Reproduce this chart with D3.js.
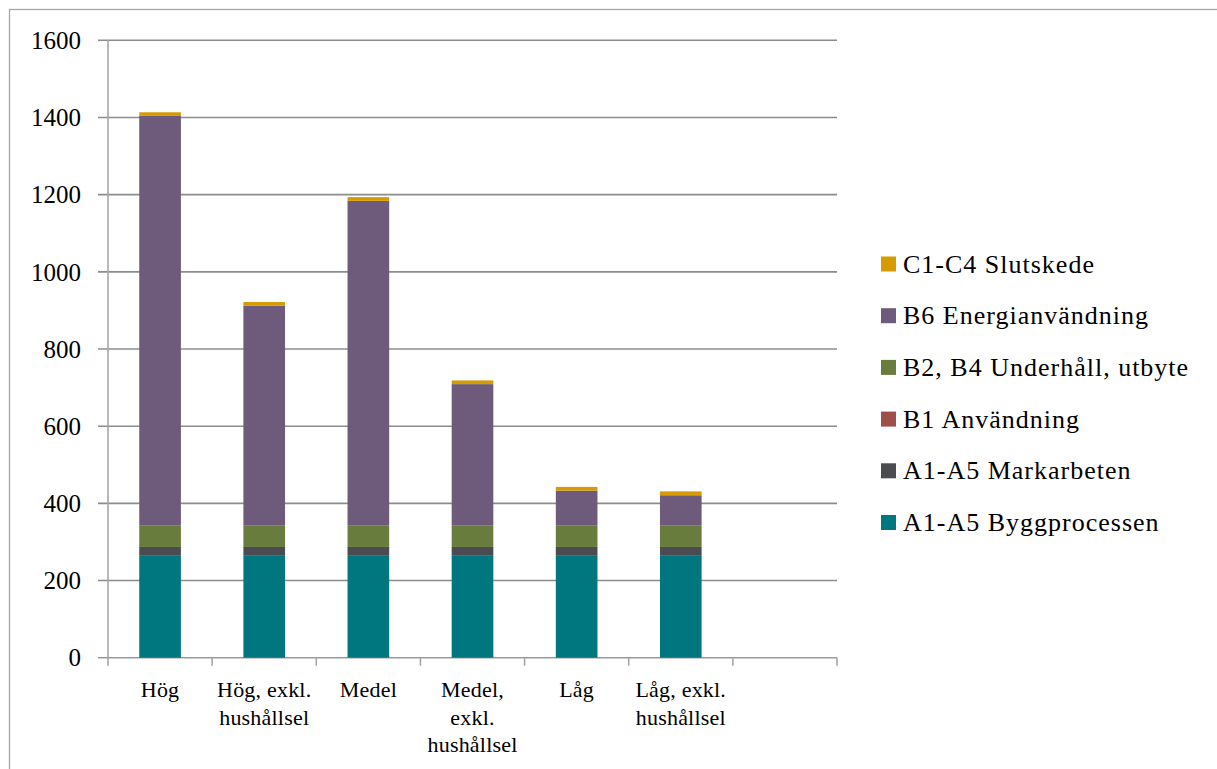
<!DOCTYPE html>
<html>
<head>
<meta charset="utf-8">
<script src="https://cdnjs.cloudflare.com/ajax/libs/d3/7.8.5/d3.min.js"></script>
<style>
  body { margin: 0; background: #fff; }
</style>
</head>
<body>
<div id="viz-container"></div>
<script>
// categories (last slot is empty, as in the original)
const categories = ['hog', 'hogExkl', 'medel', 'medelExkl', 'lag', 'lagExkl', 'empty'];
const categoryLabels = [
  ['Hög'],
  ['Hög, exkl.', 'hushållsel'],
  ['Medel'],
  ['Medel,', 'exkl.', 'hushållsel'],
  ['Låg'],
  ['Låg, exkl.', 'hushållsel'],
  []
];

// series, bottom to top
const seriesNames = [
  'A1-A5 Byggprocessen',
  'A1-A5 Markarbeten',
  'B1 Användning',
  'B2, B4 Underhåll, utbyte',
  'B6 Energianvändning',
  'C1-C4 Slutskede'
];
const seriesColors = ['#00777f', '#4b4c51', '#9e4f49', '#687c3d', '#6e5b7c', '#d59b00'];

const byggprocessen = [264, 264, 264, 264, 264, 264];
const markarbeten   = [23, 23, 23, 23, 23, 23];
const anvandning    = [0, 0, 0, 0, 0, 0];
const underhall     = [55, 55, 55, 55, 55, 55];
const energi        = [1062, 570, 842, 367, 91, 79];
const slutskede     = [9.5, 9.7, 9.5, 9.6, 9.6, 10];

const yTicks = [0, 200, 400, 600, 800, 1000, 1200, 1400, 1600];

const allSeries = [byggprocessen, markarbeten, anvandning, underhall, energi, slutskede];
const rows = categories.slice(0, 6).map((c, i) => {
  const r = { cat: c };
  seriesNames.forEach((s, j) => { r[s] = allSeries[j][i]; });
  return r;
});

const width = 1217,
      height = 769,
      plot = { left: 108, right: 837, top: 40.3, bottom: 657.7 },
      serif = "'Liberation Serif', 'Times New Roman', serif";

const x = d3.scaleBand()
  .domain(categories)
  .range([plot.left, plot.right])
  .paddingInner(0.6)
  .paddingOuter(0.3);

const y = d3.scaleLinear()
  .domain([0, 1600])
  .range([plot.bottom, plot.top]);

const svg = d3.select('#viz-container')
  .append('svg')
    .attr('width', width)
    .attr('height', height)
    .style('font-family', serif);

// outer frame
svg.append('rect')
  .attr('x', 9.5).attr('y', 9.5)
  .attr('width', width).attr('height', height)
  .attr('fill', 'none')
  .attr('stroke', '#a6a6a6')
  .attr('stroke-width', 1.3);

// gridlines + y ticks
svg.append('g')
  .selectAll('line')
  .data(yTicks)
  .enter()
  .append('line')
    .attr('x1', plot.left - 10)
    .attr('x2', plot.right)
    .attr('y1', d => y(d))
    .attr('y2', d => y(d))
    .attr('stroke', d => d === 0 ? '#9a9a9a' : '#8c8c8c')
    .attr('stroke-width', 1.6);

svg.append('g')
  .selectAll('text')
  .data(yTicks)
  .enter()
  .append('text')
    .attr('x', 81)
    .attr('y', d => y(d))
    .attr('dy', '0.35em')
    .attr('text-anchor', 'end')
    .style('font-size', '25px')
    .attr('fill', '#000')
    .text(d => d);

// y axis line
svg.append('line')
  .attr('x1', plot.left).attr('x2', plot.left)
  .attr('y1', plot.top).attr('y2', plot.bottom + 8)
  .attr('stroke', '#a6a6a6')
  .attr('stroke-width', 1.6);

// x ticks between categories
const step = x.step();
svg.append('g')
  .selectAll('line')
  .data(categories)
  .enter()
  .append('line')
    .attr('x1', (d, i) => plot.left + (i + 1) * step)
    .attr('x2', (d, i) => plot.left + (i + 1) * step)
    .attr('y1', plot.bottom)
    .attr('y2', plot.bottom + 8)
    .attr('stroke', '#a6a6a6')
    .attr('stroke-width', 1.6);

// stacked bars
const stack = d3.stack().keys(seriesNames);
const layers = stack(rows);

svg.append('g')
  .selectAll('g')
  .data(layers)
  .enter()
  .append('g')
    .attr('fill', (d, i) => seriesColors[i])
  .selectAll('rect')
  .data(d => d)
  .enter()
  .append('rect')
    .attr('x', d => x(d.data.cat))
    .attr('width', x.bandwidth())
    .attr('y', d => y(d[1]))
    .attr('height', d => y(d[0]) - y(d[1]));

// x labels
svg.append('g')
  .selectAll('text')
  .data(categories)
  .enter()
  .append('text')
    .attr('text-anchor', 'middle')
    .style('font-size', '22px')
    .attr('letter-spacing', 0.2)
    .attr('fill', '#000')
  .each(function(d, i) {
    const t = d3.select(this);
    categoryLabels[i].forEach((line, k) => {
      t.append('tspan')
        .attr('x', x(d) + x.bandwidth() / 2)
        .attr('y', 697 + k * 27.5)
        .text(line);
    });
  });

// legend (top = last series)
const legend = svg.append('g')
  .selectAll('g')
  .data(seriesNames.slice().reverse())
  .enter()
  .append('g')
    .attr('transform', (d, i) => 'translate(881,' + (264 + i * 51.7) + ')');

legend.append('rect')
  .attr('x', 0).attr('y', -7.5)
  .attr('width', 15).attr('height', 15)
  .attr('fill', d => seriesColors[seriesNames.indexOf(d)]);

legend.append('text')
  .attr('x', 22)
  .attr('y', 8.5)
  .style('font-size', '26px')
  .attr('letter-spacing', 1.0)
  .attr('fill', '#000')
  .text(d => d);
</script>
</body>
</html>
